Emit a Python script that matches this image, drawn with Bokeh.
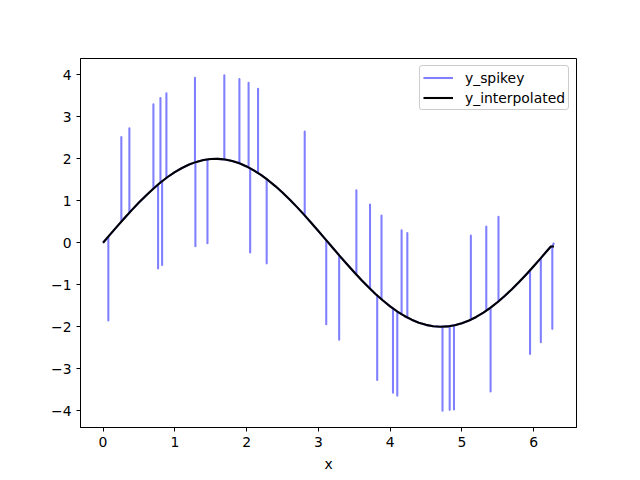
import numpy as np
from bokeh.plotting import figure
from bokeh.models import Range1d, FixedTicker, Legend, LegendItem
from bokeh.embed import file_html
from bokeh.resources import INLINE

# ---- data ----
x_curve = [0.0, 0.1, 0.2, 0.3, 0.4, 0.5, 0.6, 0.7, 0.8, 0.9, 1.0, 1.1, 1.2, 1.3,
           1.4, 1.5, 1.6, 1.7, 1.8, 1.9, 2.0, 2.1, 2.2, 2.3, 2.4, 2.5, 2.6, 2.7,
           2.8, 2.9, 3.0, 3.1, 3.2, 3.3, 3.4, 3.5, 3.6, 3.7, 3.8, 3.9, 4.0, 4.1,
           4.2, 4.3, 4.4, 4.5, 4.6, 4.7, 4.8, 4.9, 5.0, 5.1, 5.2, 5.3, 5.4, 5.5,
           5.6, 5.7, 5.8, 5.9, 6.0, 6.1, 6.2, 6.24, 6.283]
y_interpolated = [0.000, 0.200, 0.397, 0.591, 0.779, 0.959, 1.129, 1.288, 1.435,
                  1.567, 1.683, 1.782, 1.864, 1.927, 1.971, 1.995, 1.999, 1.983,
                  1.948, 1.893, 1.819, 1.726, 1.617, 1.491, 1.351, 1.197, 1.031,
                  0.855, 0.670, 0.479, 0.282, 0.083, -0.117, -0.316, -0.511,
                  -0.702, -0.885, -1.060, -1.224, -1.376, -1.514, -1.637, -1.743,
                  -1.832, -1.903, -1.955, -1.987, -2.000, -1.992, -1.965, -1.918,
                  -1.852, -1.767, -1.665, -1.546, -1.411, -1.263, -1.101, -0.929,
                  -0.748, -0.559, -0.364, -0.166, -0.088, -0.088]

spike_x = [0.074, 0.255, 0.367, 0.702, 0.767, 0.800, 0.823, 0.883, 1.281, 1.287,
           1.455, 1.690, 1.900, 2.028, 2.050, 2.160, 2.280, 2.810, 3.110, 3.290,
           3.530, 3.720, 3.820, 3.880, 4.040, 4.100, 4.160, 4.240, 4.730, 4.830,
           4.890, 5.125, 5.340, 5.400, 5.510, 5.950, 6.100, 6.260]
spike_y = [-1.85, 2.52, 2.73, 3.30, -0.61, 3.45, -0.53, 3.56, 3.93, -0.08,
           -0.01, 3.99, 3.90, 3.81, -0.23, 3.67, -0.49, 2.65, -1.94, -2.31,
           1.25, 0.91, -3.27, 0.65, -3.57, -3.64, 0.30, 0.23, -4.00, -3.98,
           -3.97, 0.17, 0.39, -3.54, 0.62, -2.65, -2.37, -2.05]

spikey_last_x = 6.283
spikey_last_y = 0.0

x_ticks = [0, 1, 2, 3, 4, 5, 6]
y_ticks = [-4, -3, -2, -1, 0, 1, 2, 3, 4]

# ---- build the spikey series path ----
base_at_spike = np.interp(spike_x, x_curve, y_interpolated)
events = []
for xc, yc in zip(x_curve[:-1], y_interpolated[:-1]):
    events.append((xc, 0, [(xc, yc)]))
for sx, sy, b in zip(spike_x, spike_y, base_at_spike):
    events.append((sx, 1, [(sx, b), (sx, sy), (sx, b)]))
events.sort(key=lambda e: (e[0], e[1]))
sp_x, sp_y = [], []
for _, _, pts in events:
    for px, py in pts:
        sp_x.append(px)
        sp_y.append(py)
sp_x.append(spikey_last_x)
sp_y.append(spikey_last_y)

FONT = "DejaVu Sans"
FS = "13.9px"

p = figure(width=640, height=480, output_backend="svg", toolbar_location=None,
           x_range=Range1d(-0.314, 6.597), y_range=Range1d(-4.40, 4.39),
           min_border_left=80, min_border_right=64, min_border_top=58,
           min_border_bottom=53)
p.background_fill_color = "white"
p.border_fill_color = "white"
p.xgrid.visible = False
p.ygrid.visible = False
p.outline_line_color = "black"
p.outline_line_width = 1
p.outline_line_alpha = 1

for ax in (p.xaxis[0], p.yaxis[0]):
    ax.axis_line_color = "black"
    ax.major_tick_line_color = "black"
    ax.major_tick_out = 4
    ax.major_tick_in = 0
    ax.minor_tick_line_color = None
    ax.major_label_text_font = FONT
    ax.major_label_text_font_size = FS
    ax.major_label_text_color = "black"
    ax.major_label_standoff = 5

p.xaxis.ticker = FixedTicker(ticks=x_ticks)
p.yaxis.ticker = FixedTicker(ticks=y_ticks)
p.yaxis.major_label_overrides = {t: (("\u2212" + str(-t)) if t < 0 else str(t)) for t in y_ticks}
p.xaxis.axis_label = "x"
p.xaxis.axis_label_text_font = FONT
p.xaxis.axis_label_text_font_size = FS
p.xaxis.axis_label_text_font_style = "normal"
p.xaxis.axis_label_text_color = "black"
p.xaxis.axis_label_standoff = 6

r1 = p.line(sp_x, sp_y, line_color="#0000ff", line_alpha=0.5, line_width=2.08,
            line_join="round")
r2 = p.line(x_curve, y_interpolated, line_color="black", line_width=2.08,
            line_join="round")

legend = Legend(items=[LegendItem(label="y_spikey", renderers=[r1]),
                       LegendItem(label="y_interpolated", renderers=[r2])],
                location="top_right")
legend.border_line_color = "#cccccc"
legend.border_line_alpha = 1
legend.background_fill_alpha = 0.8
legend.label_text_font = FONT
legend.label_text_font_size = FS
legend.label_text_color = "black"
legend.glyph_width = 30
legend.glyph_height = 17
legend.label_height = 17
legend.label_standoff = 12
legend.padding = 3
legend.spacing = 3
legend.margin = 7
try:
    legend.border_radius = 3
except Exception:
    pass
p.add_layout(legend)

open("out.html", "w").write(file_html(p, INLINE))
